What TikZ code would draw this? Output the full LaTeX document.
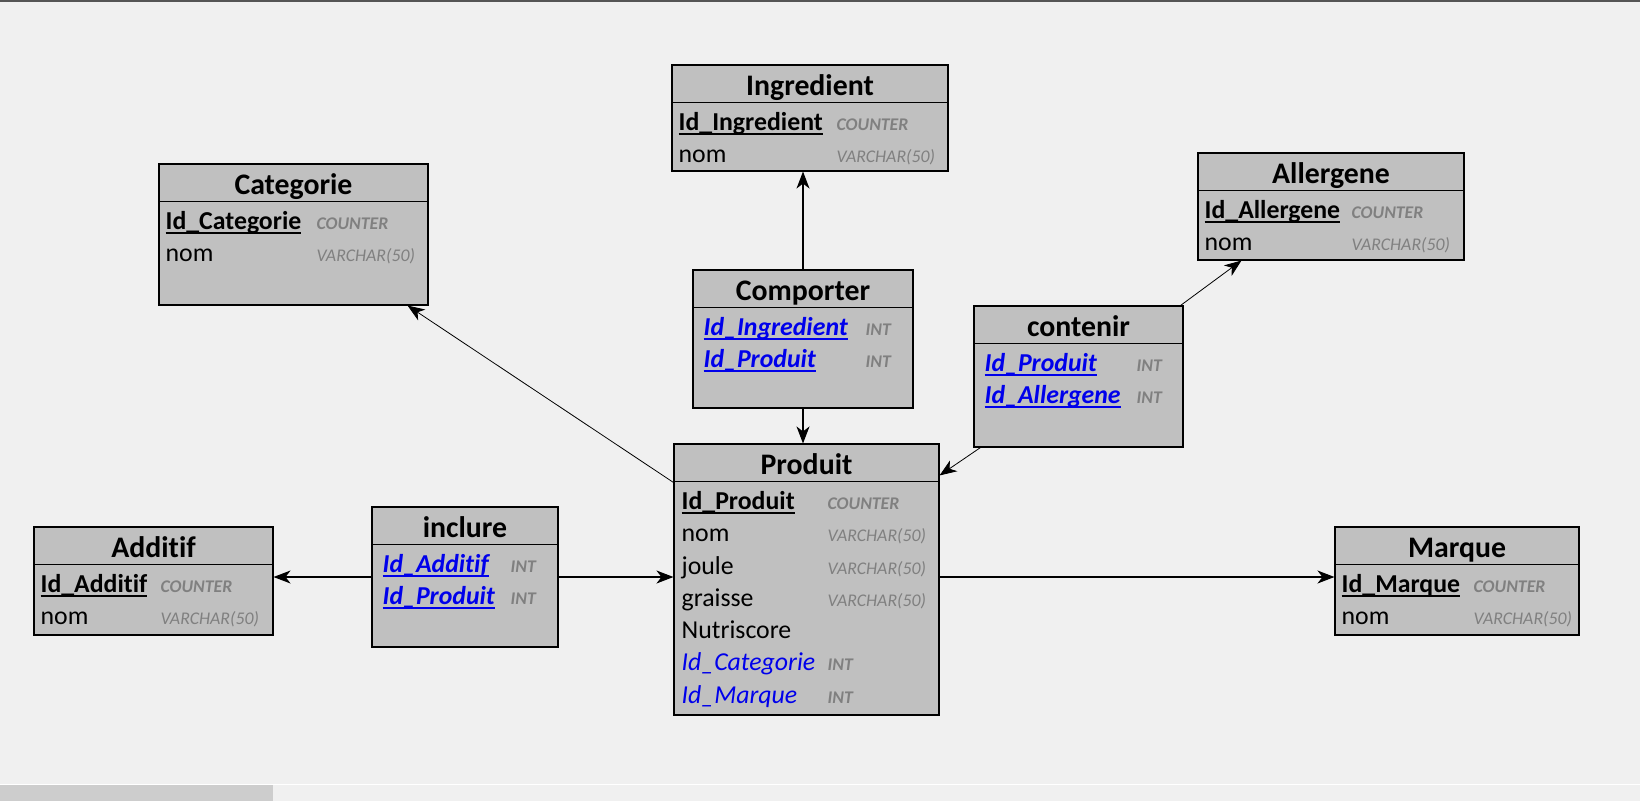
\documentclass[tikz,border=0pt]{standalone}
\usepackage{fontspec}
\setmainfont{Carlito}[Ligatures=NoCommon]
\usetikzlibrary{arrows.meta}

\definecolor{bgcol}{RGB}{240,240,240}
\definecolor{tblfill}{RGB}{192,192,192}
\definecolor{fkblue}{RGB}{0,0,235}
\definecolor{typgray}{RGB}{128,128,128}
\definecolor{barcol}{RGB}{205,205,205}
\definecolor{topline}{RGB}{85,85,85}

% underlined key field
\newcommand{\keyul}[1]{\setbox0\hbox{#1}\rlap{\rule[-4.5pt]{\wd0}{1.8pt}}\box0}

\begin{document}
\begin{tikzpicture}[x=1pt, y=-1pt,
    tbl/.style={draw, fill=tblfill, line width=1.1pt, inner sep=0pt},
    ttl/.style={anchor=base, inner sep=0pt, font=\fontsize{29.8}{32}\selectfont\bfseries},
    fld/.style={anchor=base west, inner sep=0pt, font=\fontsize{25.8}{28}\selectfont},
    key/.style={fld, font=\fontsize{25.8}{28}\selectfont\bfseries},
    fk/.style={fld, text=fkblue, font=\fontsize{25.8}{28}\selectfont\bfseries\itshape},
    fkplain/.style={fld, text=fkblue, font=\fontsize{25.8}{28}\selectfont\itshape},
    typ/.style={anchor=base west, inner sep=0pt, text=typgray, font=\fontsize{17.8}{20}\selectfont\itshape},
    typb/.style={typ, font=\fontsize{17.8}{20}\selectfont\bfseries\itshape},
    rel/.style={-{Stealth[length=17pt, width=13pt, inset=5pt]}, line width=1.1pt},
    reld/.style={rel, line width=0.8pt}]

    % window background
    \fill[bgcol] (0,0) rectangle (1640,801);
    \useasboundingbox (0,0) rectangle (1640,801);
    \fill[topline] (0,0) rectangle (1640,1.5);
    \draw[white, line width=1pt] (0,784) -- (1640,784);
    \fill[barcol] (0,785) rectangle (273,801);

    % Ingredient
    \node[tbl, minimum width=276pt, minimum height=106pt] (ingredient) at (810,118) {};
    \draw[line width=1.1pt] ([yshift=-38pt]ingredient.north west) -- ([yshift=-38pt]ingredient.north east);
    \node[ttl] (ingredient-n) at ([yshift=-31pt]ingredient.north) {Ingredient};
    \node[key] (ingredient-f1) at ([shift={(7,66)}]ingredient.north west) {\keyul{Id\_Ingredient}};
    \node[typb] (ingredient-t1) at ([shift={(165,66)}]ingredient.north west) {COUNTER};
    \node[fld] (ingredient-f2) at ([shift={(7,98)}]ingredient.north west) {nom};
    \node[typ] (ingredient-t2) at ([shift={(165,98)}]ingredient.north west) {VARCHAR(50)};

    % Categorie
    \node[tbl, minimum width=269pt, minimum height=141pt] (categorie) at (293.5,234.5) {};
    \draw[line width=1.1pt] ([yshift=-38pt]categorie.north west) -- ([yshift=-38pt]categorie.north east);
    \node[ttl] (categorie-n) at ([yshift=-31pt]categorie.north) {Categorie};
    \node[key] (categorie-f1) at ([shift={(7,66)}]categorie.north west) {\keyul{Id\_Categorie}};
    \node[typb] (categorie-t1) at ([shift={(158,66)}]categorie.north west) {COUNTER};
    \node[fld] (categorie-f2) at ([shift={(7,98)}]categorie.north west) {nom};
    \node[typ] (categorie-t2) at ([shift={(158,98)}]categorie.north west) {VARCHAR(50)};

    % Allergene
    \node[tbl, minimum width=266pt, minimum height=107pt] (allergene) at (1331,206.5) {};
    \draw[line width=1.1pt] ([yshift=-38pt]allergene.north west) -- ([yshift=-38pt]allergene.north east);
    \node[ttl] (allergene-n) at ([yshift=-31pt]allergene.north) {Allergene};
    \node[key] (allergene-f1) at ([shift={(7,66)}]allergene.north west) {\keyul{Id\_Allergene}};
    \node[typb] (allergene-t1) at ([shift={(154,66)}]allergene.north west) {COUNTER};
    \node[fld] (allergene-f2) at ([shift={(7,98)}]allergene.north west) {nom};
    \node[typ] (allergene-t2) at ([shift={(154,98)}]allergene.north west) {VARCHAR(50)};

    % Comporter
    \node[tbl, minimum width=220pt, minimum height=138pt] (comporter) at (803,339) {};
    \draw[line width=1.1pt] ([yshift=-38pt]comporter.north west) -- ([yshift=-38pt]comporter.north east);
    \node[ttl] (comporter-n) at ([yshift=-31pt]comporter.north) {Comporter};
    \node[fk] (comporter-f1) at ([shift={(11,66)}]comporter.north west) {\keyul{Id\_Ingredient}};
    \node[typb] (comporter-t1) at ([shift={(173,66)}]comporter.north west) {INT};
    \node[fk] (comporter-f2) at ([shift={(11,98)}]comporter.north west) {\keyul{Id\_Produit}};
    \node[typb] (comporter-t2) at ([shift={(173,98)}]comporter.north west) {INT};

    % contenir
    \node[tbl, minimum width=209pt, minimum height=141pt] (contenir) at (1078.5,376.5) {};
    \draw[line width=1.1pt] ([yshift=-38pt]contenir.north west) -- ([yshift=-38pt]contenir.north east);
    \node[ttl] (contenir-n) at ([yshift=-31pt]contenir.north) {contenir};
    \node[fk] (contenir-f1) at ([shift={(11,66)}]contenir.north west) {\keyul{Id\_Produit}};
    \node[typb] (contenir-t1) at ([shift={(163,66)}]contenir.north west) {INT};
    \node[fk] (contenir-f2) at ([shift={(11,98)}]contenir.north west) {\keyul{Id\_Allergene}};
    \node[typb] (contenir-t2) at ([shift={(163,98)}]contenir.north west) {INT};

    % Produit
    \node[tbl, minimum width=265pt, minimum height=271pt] (produit) at (806.5,579.5) {};
    \draw[line width=1.1pt] ([yshift=-38pt]produit.north west) -- ([yshift=-38pt]produit.north east);
    \node[ttl] (produit-n) at ([yshift=-31pt]produit.north) {Produit};
    \node[key] (produit-f1) at ([shift={(8,66)}]produit.north west) {\keyul{Id\_Produit}};
    \node[typb] (produit-t1) at ([shift={(154,66)}]produit.north west) {COUNTER};
    \node[fld] (produit-f2) at ([shift={(8,98.3)}]produit.north west) {nom};
    \node[typ] (produit-t2) at ([shift={(154,98.3)}]produit.north west) {VARCHAR(50)};
    \node[fld] (produit-f3) at ([shift={(8,130.6)}]produit.north west) {joule};
    \node[typ] (produit-t3) at ([shift={(154,130.6)}]produit.north west) {VARCHAR(50)};
    \node[fld] (produit-f4) at ([shift={(8,162.9)}]produit.north west) {graisse};
    \node[typ] (produit-t4) at ([shift={(154,162.9)}]produit.north west) {VARCHAR(50)};
    \node[fld] (produit-f5) at ([shift={(8,195.2)}]produit.north west) {Nutriscore};
    \node[fkplain] (produit-f6) at ([shift={(8,227.5)}]produit.north west) {Id\_Categorie};
    \node[typb] (produit-t6) at ([shift={(154,227.5)}]produit.north west) {INT};
    \node[fkplain] (produit-f7) at ([shift={(8,259.8)}]produit.north west) {Id\_Marque};
    \node[typb] (produit-t7) at ([shift={(154,259.8)}]produit.north west) {INT};

    % Additif
    \node[tbl, minimum width=239pt, minimum height=108pt] (additif) at (153.5,581) {};
    \draw[line width=1.1pt] ([yshift=-38pt]additif.north west) -- ([yshift=-38pt]additif.north east);
    \node[ttl] (additif-n) at ([yshift=-31pt]additif.north) {Additif};
    \node[key] (additif-f1) at ([shift={(7,66)}]additif.north west) {\keyul{Id\_Additif}};
    \node[typb] (additif-t1) at ([shift={(127,66)}]additif.north west) {COUNTER};
    \node[fld] (additif-f2) at ([shift={(7,98)}]additif.north west) {nom};
    \node[typ] (additif-t2) at ([shift={(127,98)}]additif.north west) {VARCHAR(50)};

    % inclure
    \node[tbl, minimum width=186pt, minimum height=140pt] (inclure) at (465,577) {};
    \draw[line width=1.1pt] ([yshift=-38pt]inclure.north west) -- ([yshift=-38pt]inclure.north east);
    \node[ttl] (inclure-n) at ([yshift=-31pt]inclure.north) {inclure};
    \node[fk] (inclure-f1) at ([shift={(11,66)}]inclure.north west) {\keyul{Id\_Additif}};
    \node[typb] (inclure-t1) at ([shift={(139,66)}]inclure.north west) {INT};
    \node[fk] (inclure-f2) at ([shift={(11,98)}]inclure.north west) {\keyul{Id\_Produit}};
    \node[typb] (inclure-t2) at ([shift={(139,98)}]inclure.north west) {INT};

    % Marque
    \node[tbl, minimum width=244pt, minimum height=108pt] (marque) at (1457,581) {};
    \draw[line width=1.1pt] ([yshift=-38pt]marque.north west) -- ([yshift=-38pt]marque.north east);
    \node[ttl] (marque-n) at ([yshift=-31pt]marque.north) {Marque};
    \node[key] (marque-f1) at ([shift={(7,66)}]marque.north west) {\keyul{Id\_Marque}};
    \node[typb] (marque-t1) at ([shift={(139,66)}]marque.north west) {COUNTER};
    \node[fld] (marque-f2) at ([shift={(7,98)}]marque.north west) {nom};
    \node[typ] (marque-t2) at ([shift={(139,98)}]marque.north west) {VARCHAR(50)};

    % links
    \draw[rel] (comporter.north) -- (comporter.north |- ingredient.south);
    \draw[rel] (comporter.south) -- (comporter.south |- produit.north);
    \draw[reld] ([xshift=-3pt]contenir.north east) -- ([xshift=44pt]allergene.south west);
    \draw[reld] ([xshift=7pt]contenir.south west) -- ([yshift=-32pt]produit.north east);
    \draw[reld] ([yshift=-39pt]produit.north west) -- ([xshift=-21pt]categorie.south east);
    \draw[rel] (inclure.west) -- (inclure.west -| additif.east);
    \draw[rel] (inclure.east) -- (inclure.east -| produit.west);
    \draw[rel] (produit.east |- inclure.east) -- (marque.west |- inclure.east);

\end{tikzpicture}
\end{document}
